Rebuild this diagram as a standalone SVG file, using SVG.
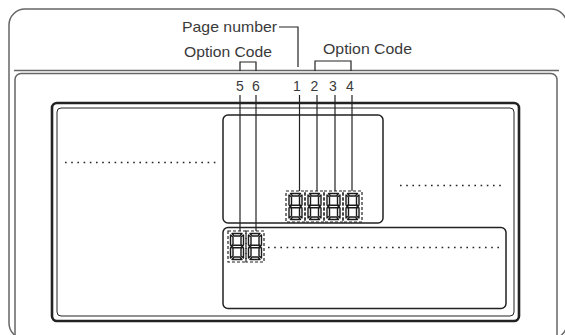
<svg xmlns="http://www.w3.org/2000/svg" xmlns:xlink="http://www.w3.org/1999/xlink" width="565" height="335" viewBox="0 0 565 335">
<style>
.frame{fill:none;stroke:#666;stroke-width:1.5}
.panel{fill:none;stroke:#222;stroke-width:1.5}
.lead{fill:none;stroke:#222;stroke-width:1.2}
.dots{fill:none;stroke:#222;stroke-width:1.6;stroke-dasharray:1.6 4.6}
.box{fill:none;stroke:#222;stroke-width:1.2;stroke-dasharray:3 2}
.seg{fill:#fff;stroke:#1a1a1a;stroke-width:1.4;stroke-linejoin:round}
.lbl{font-family:"Liberation Sans",Arial,sans-serif;font-size:15px;fill:#3a3a3a}
.num{font-family:"Liberation Sans",Arial,sans-serif;font-size:14px;fill:#3a3a3a;text-anchor:middle}
</style>
<defs>
<g id="d8">
<path class="seg" d="M1.5,0 H11.5 L9.5,2.5 H3.5 Z"/>
<path class="seg" d="M1.5,26 H11.5 L9.5,23.5 H3.5 Z"/>
<path class="seg" d="M1.5,13 L3,11.7 H10 L11.5,13 L10,14.3 H3 Z"/>
<path class="seg" d="M0,1.5 L2.5,3.5 V11 L0.8,12.4 L0,11.6 Z"/>
<path class="seg" d="M13,1.5 L10.5,3.5 V11 L12.2,12.4 L13,11.6 Z"/>
<path class="seg" d="M0,24.5 L2.5,22.5 V15 L0.8,13.6 L0,14.4 Z"/>
<path class="seg" d="M13,24.5 L10.5,22.5 V15 L12.2,13.6 L13,14.4 Z"/>
</g>
</defs>
<g id="housing">
<rect class="frame" x="9" y="9" width="558" height="330" rx="16"/>
<line class="frame" x1="14" y1="70.5" x2="559" y2="70.5" stroke-width="1.2"/>
<rect class="frame" x="15" y="73.5" width="542" height="280" rx="6" stroke="#777" stroke-width="1.2"/>
</g>
<g id="display">
<rect x="52" y="103" width="467" height="218" rx="5" fill="none" stroke="#222" stroke-width="2.6"/>
<rect x="57" y="108" width="457" height="208" rx="4" fill="none" stroke="#222" stroke-width="1"/>
</g>
<g id="upper-panel">
<rect class="panel" x="223" y="115" width="160" height="108" rx="5"/>
</g>
<g id="lower-panel">
<rect class="panel" x="223" y="227.5" width="283" height="81" rx="5"/>
</g>
<g id="dotted-fields">
<line class="dots" x1="65" y1="162.5" x2="218" y2="162.5"/>
<line class="dots" x1="400" y1="185.5" x2="504" y2="185.5"/>
<line class="dots" x1="268" y1="247.5" x2="501" y2="247.5"/>
</g>
<g id="connectors">
<path class="lead" d="M279,27 H298 V67"/>
<path class="lead" d="M240,71 V62 H256 V71"/>
<path class="lead" d="M315,71 V61 H351 V71"/>
<line class="lead" x1="240" y1="95" x2="240" y2="231"/>
<line class="lead" x1="256" y1="95" x2="256" y2="231"/>
<line class="lead" x1="299.5" y1="95" x2="299.5" y2="191"/>
<line class="lead" x1="317" y1="95" x2="317" y2="191"/>
<line class="lead" x1="335" y1="95" x2="335" y2="191"/>
<line class="lead" x1="352" y1="95" x2="352" y2="191"/>
</g>
<g id="page-digits">
<rect class="box" x="286" y="191" width="19" height="31"/>
<rect class="box" x="305" y="191" width="19" height="31"/>
<rect class="box" x="324" y="191" width="19" height="31"/>
<rect class="box" x="343" y="191" width="19" height="31"/>
<use xlink:href="#d8" x="289" y="193.5"/>
<use xlink:href="#d8" x="308" y="193.5"/>
<use xlink:href="#d8" x="327" y="193.5"/>
<use xlink:href="#d8" x="346" y="193.5"/>
</g>
<g id="option-digits">
<rect class="box" x="228" y="231" width="18" height="31"/>
<rect class="box" x="246" y="231" width="18" height="31"/>
<use xlink:href="#d8" x="230.5" y="233.5"/>
<use xlink:href="#d8" x="248.5" y="233.5"/>
</g>
<g id="labels">
<text class="lbl" x="182" y="32" textLength="95" lengthAdjust="spacingAndGlyphs">Page number</text>
<text class="lbl" x="184" y="57" textLength="88" lengthAdjust="spacingAndGlyphs">Option Code</text>
<text class="lbl" x="323" y="54" textLength="89" lengthAdjust="spacingAndGlyphs">Option Code</text>
<text class="num" x="240" y="91">5</text>
<text class="num" x="256" y="91">6</text>
<text class="num" x="297" y="91">1</text>
<text class="num" x="314.5" y="91">2</text>
<text class="num" x="333" y="91">3</text>
<text class="num" x="350" y="91">4</text>
</g>
</svg>
